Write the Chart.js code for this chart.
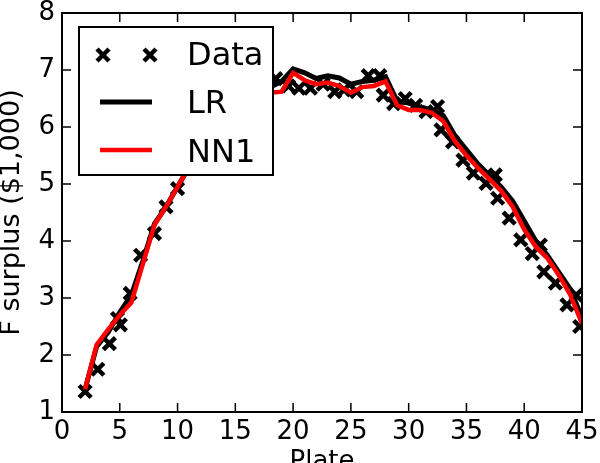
<!DOCTYPE html>
<html lang="en">
<head>
    <meta charset="UTF-8" />
    <title>F surplus by plate</title>
    <script src="https://cdn.jsdelivr.net/npm/chart.js"></script>
    <style>
        body { margin: 0; background: #fff; }
    </style>
</head>
<body>
    <canvas id="surplusChart" width="600" height="463"></canvas>

    <script>
        // plates used by the two model lines
        const plates = [2, 3, 4, 5, 6, 7, 8, 9, 10, 11, 12, 13, 14, 15, 16, 17, 18, 19, 20, 21, 22, 23,
                        24, 25, 26, 27, 28, 29, 30, 31, 32, 33, 34, 35, 36, 37, 38, 39, 40, 41, 42, 43, 44, 45];
        const lrValues = [1.4, 2.15, 2.4, 2.75, 3.05, 3.65, 4.3, 4.6, 4.95, 5.3, 5.65, 5.95, 6.2, 6.4, 6.55, 6.62,
                          6.7, 6.8, 7.02, 6.95, 6.85, 6.9, 6.86, 6.75, 6.8, 6.82, 6.88, 6.45, 6.42, 6.35, 6.3,
                          6.2, 5.85, 5.6, 5.35, 5.15, 4.95, 4.7, 4.35, 4.0, 3.75, 3.45, 3.15, 2.65];
        const nn1Values = [1.4, 2.18, 2.45, 2.7, 2.92, 3.6, 4.28, 4.6, 4.95, 5.3, 5.65, 5.95, 6.2, 6.4, 6.5, 6.55,
                           6.6, 6.62, 6.95, 6.82, 6.75, 6.78, 6.72, 6.6, 6.7, 6.72, 6.8, 6.38, 6.3, 6.3, 6.25,
                           6.1, 5.75, 5.5, 5.28, 5.08, 4.88, 4.6, 4.2, 3.9, 3.7, 3.4, 3.05, 2.55];

        // measured points (crosses)
        const dataX = [2.0, 3.1, 4.1, 4.8, 5.05, 5.9, 6.8, 8.0, 9.0, 10.0, 11, 12, 13, 14, 15, 16, 17,
                       18.5, 19.6, 20.5, 21.5, 22.6, 23.6, 24.4, 25.5, 26.5, 27.5, 27.8, 28.7, 29.7, 30.6,
                       31.5, 32.5, 32.8, 33.8, 34.7, 35.6, 36.7, 37.5, 37.7, 38.7, 39.7, 40.7, 41.4, 41.7,
                       42.7, 43.7, 44.5, 44.8];
        const dataY = [1.36, 1.75, 2.2, 2.64, 2.53, 3.08, 3.75, 4.13, 4.6, 4.92, 5.3, 5.65, 5.95, 6.2, 6.4, 6.55, 6.65,
                       6.85, 6.72, 6.68, 6.68, 6.75, 6.62, 6.65, 6.62, 6.9, 6.9, 6.56, 6.41, 6.5, 6.38,
                       6.27, 6.36, 5.95, 5.74, 5.42, 5.19, 5.01, 5.16, 4.75, 4.4, 4.02, 3.78, 3.93, 3.46,
                       3.26, 2.88, 3.05, 2.5];

        const xTicks = [0, 5, 10, 15, 20, 25, 30, 35, 40, 45];
        const yTicks = [1, 2, 3, 4, 5, 6, 7, 8];

        Chart.defaults.font.family = "'DejaVu Sans', sans-serif";
        Chart.defaults.font.size = 26;
        Chart.defaults.color = '#000';

        // legend box inside the axes, like matplotlib's
        const boxLegend = {
            id: 'boxLegend',
            afterDatasetsDraw(chart) {
                const ctx = chart.ctx;
                const ds = chart.data.datasets;
                ctx.save();
                ctx.fillStyle = '#fff';
                ctx.fillRect(79, 27, 194, 148);
                ctx.strokeStyle = '#000';
                ctx.lineWidth = 2;
                ctx.strokeRect(79, 27, 194, 148);

                ctx.font = "32px 'DejaVu Sans'";
                ctx.fillStyle = '#000';
                ctx.textBaseline = 'alphabetic';
                ctx.lineCap = 'butt';

                // Data row: two crosses
                ctx.strokeStyle = ds[0].borderColor;
                ctx.lineWidth = 4.5;
                [103, 150].forEach(cx => {
                    ctx.beginPath();
                    ctx.moveTo(cx - 6, 49); ctx.lineTo(cx + 6, 61);
                    ctx.moveTo(cx + 6, 49); ctx.lineTo(cx - 6, 61);
                    ctx.stroke();
                });
                ctx.fillText(ds[0].label, 187, 65);

                // line rows
                [[ds[1], 102, 113], [ds[2], 150, 162]].forEach(([d, ly, ty]) => {
                    ctx.strokeStyle = d.borderColor;
                    ctx.lineWidth = d.borderWidth;
                    ctx.beginPath();
                    ctx.moveTo(100, ly); ctx.lineTo(152, ly);
                    ctx.stroke();
                    ctx.fillText(d.label, 187, ty);
                });
                ctx.restore();
            }
        };

        // frame on all four sides with inward ticks
        const frame = {
            id: 'frame',
            afterDraw(chart) {
                const {ctx, chartArea: a, scales} = chart;
                const seg = (x1, y1, x2, y2) => { ctx.beginPath(); ctx.moveTo(x1, y1); ctx.lineTo(x2, y2); ctx.stroke(); };
                ctx.save();
                ctx.strokeStyle = '#000';
                ctx.lineWidth = 1.5;
                scales.x.ticks.forEach(t => {
                    const px = scales.x.getPixelForValue(t.value);
                    seg(px, a.bottom, px, a.bottom - 9);
                    seg(px, a.top, px, a.top + 9);
                });
                scales.y.ticks.forEach(t => {
                    const py = scales.y.getPixelForValue(t.value);
                    seg(a.left, py, a.left + 9, py);
                    seg(a.right, py, a.right - 9, py);
                });
                ctx.lineWidth = 2;
                ctx.strokeRect(a.left, a.top, a.right - a.left, a.bottom - a.top);
                ctx.restore();
            }
        };

        const ctx = document.getElementById('surplusChart').getContext('2d');
        new Chart(ctx, {
            type: 'scatter',
            data: {
                datasets: [{
                    label: 'Data',
                    data: dataX.map((x, i) => ({x: x, y: dataY[i]})),
                    pointStyle: 'crossRot',
                    pointRadius: 8.5,
                    pointBorderWidth: 4.5,
                    borderColor: '#000',
                    backgroundColor: '#000',
                    showLine: false,
                    order: 2
                }, {
                    label: 'LR',
                    data: plates.map((x, i) => ({x: x, y: lrValues[i]})),
                    showLine: true,
                    borderColor: '#000',
                    borderWidth: 5,
                    pointRadius: 0,
                    order: 1
                }, {
                    label: 'NN1',
                    data: plates.map((x, i) => ({x: x, y: nn1Values[i]})),
                    showLine: true,
                    borderColor: '#ff0000',
                    borderWidth: 4.5,
                    pointRadius: 0,
                    order: 0
                }]
            },
            options: {
                responsive: false,
                animation: false,
                layout: { padding: 0 },
                plugins: {
                    legend: { display: false },
                    tooltip: { enabled: false }
                },
                scales: {
                    x: {
                        type: 'linear',
                        min: 0,
                        max: 45,
                        afterBuildTicks: s => { s.ticks = xTicks.map(v => ({value: v})); },
                        ticks: { padding: 5, maxRotation: 0, autoSkip: false },
                        grid: { display: false, drawTicks: false },
                        border: { display: false },
                        title: { display: true, text: 'Plate', padding: {top: 0, bottom: -15} },
                        afterFit: s => { s.height = 51; s.paddingLeft = 0; s.paddingRight = 18; }
                    },
                    y: {
                        min: 1,
                        max: 8,
                        afterBuildTicks: s => { s.ticks = yTicks.map(v => ({value: v})); },
                        ticks: { padding: 7, autoSkip: false },
                        grid: { display: false, drawTicks: false },
                        border: { display: false },
                        title: { display: true, text: 'F surplus ($1,000)', font: { size: 27 }, padding: {top: -4, bottom: 0} },
                        afterFit: s => { s.width = 62; s.paddingTop = 13; s.paddingBottom = 0; }
                    }
                }
            },
            plugins: [boxLegend, frame]
        });
    </script>
</body>
</html>
